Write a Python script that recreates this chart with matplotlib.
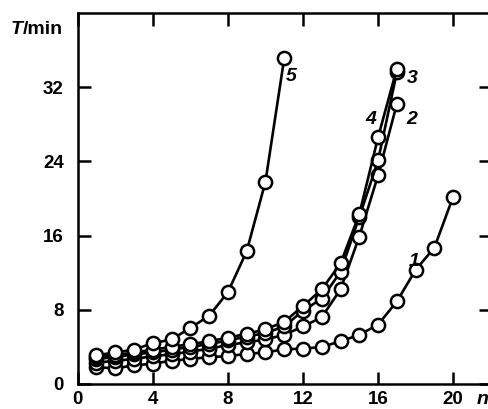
import numpy as np
import matplotlib.pyplot as plt

plt.rcParams['font.family'] = ['Liberation Sans', 'DejaVu Sans']
plt.rcParams['font.weight'] = 'bold'

# cycle number n and time T (min) for each curve
n1 = list(range(1, 21))
T1 = [1.8, 1.7, 2.0, 2.2, 2.5, 2.7, 2.9, 3.0, 3.25, 3.4,
      3.75, 3.8, 4.0, 4.6, 5.3, 6.4, 8.9, 12.3, 14.7, 20.2]
n2 = list(range(1, 18))
T2 = [2.3, 2.5, 2.7, 3.0, 3.2, 3.5, 3.8, 4.2, 4.5, 4.8,
      5.3, 6.2, 7.2, 10.2, 15.9, 22.5, 30.2]
n3 = list(range(1, 18))
T3 = [2.7, 2.9, 3.2, 3.4, 3.7, 4.0, 4.3, 4.7, 5.1, 5.5,
      6.2, 7.9, 9.2, 12.1, 18.0, 24.1, 33.6]
n4 = list(range(1, 18))
T4 = [2.9, 3.1, 3.4, 3.7, 4.0, 4.3, 4.6, 5.0, 5.4, 5.9,
      6.7, 8.4, 10.2, 13.0, 18.3, 26.6, 34.0]
n5 = list(range(1, 12))
T5 = [3.1, 3.4, 3.7, 4.4, 4.8, 6.05, 7.35, 9.9, 14.3, 21.8, 35.1]

curve_labels = ['1', '2', '3', '4', '5']
label_pos = [(17.9, 13.2), (17.8, 28.5), (17.8, 32.9), (15.6, 28.5), (11.4, 33.2)]

fig = plt.figure(figsize=(4.89, 4.09), dpi=100)
ax = fig.add_axes([77.7 / 489, 25 / 409, 413 / 489, 371 / 409])

for n, T in [(n1, T1), (n2, T2), (n3, T3), (n4, T4), (n5, T5)]:
    ax.plot(n, T, '-o', color='black', lw=1.9, markersize=9.5,
            markerfacecolor='white', markeredgewidth=1.8, markeredgecolor='black')

for lab, (x, y) in zip(curve_labels, label_pos):
    ax.text(x, y, lab, fontsize=14, fontstyle='italic', fontweight='bold',
            ha='center', va='center')

ax.set_xlim(0, 22)
ax.set_ylim(0, 40)
ax.set_xticks([0, 4, 8, 12, 16, 20])
ax.set_yticks([0, 8, 16, 24, 32])
ax.tick_params(direction='in', length=9, width=1.8, labelsize=13.5,
               top=True, right=True)
ax.tick_params(axis='y', pad=10)
ax.tick_params(axis='x', pad=5)
for s in ax.spines.values():
    s.set_linewidth(1.8)

fig.text(23 / 489, 1 - 30 / 409, 'T', fontsize=14, fontstyle='italic',
         fontweight='bold', ha='right', va='center')
fig.text(23 / 489, 1 - 30 / 409, '/min', fontsize=14, fontweight='bold',
         ha='left', va='center')
fig.text(477 / 489, 1 - 399 / 409, 'n', fontsize=14, fontstyle='italic',
         fontweight='bold', ha='left', va='center')

fig.savefig('out.png', dpi=100)
